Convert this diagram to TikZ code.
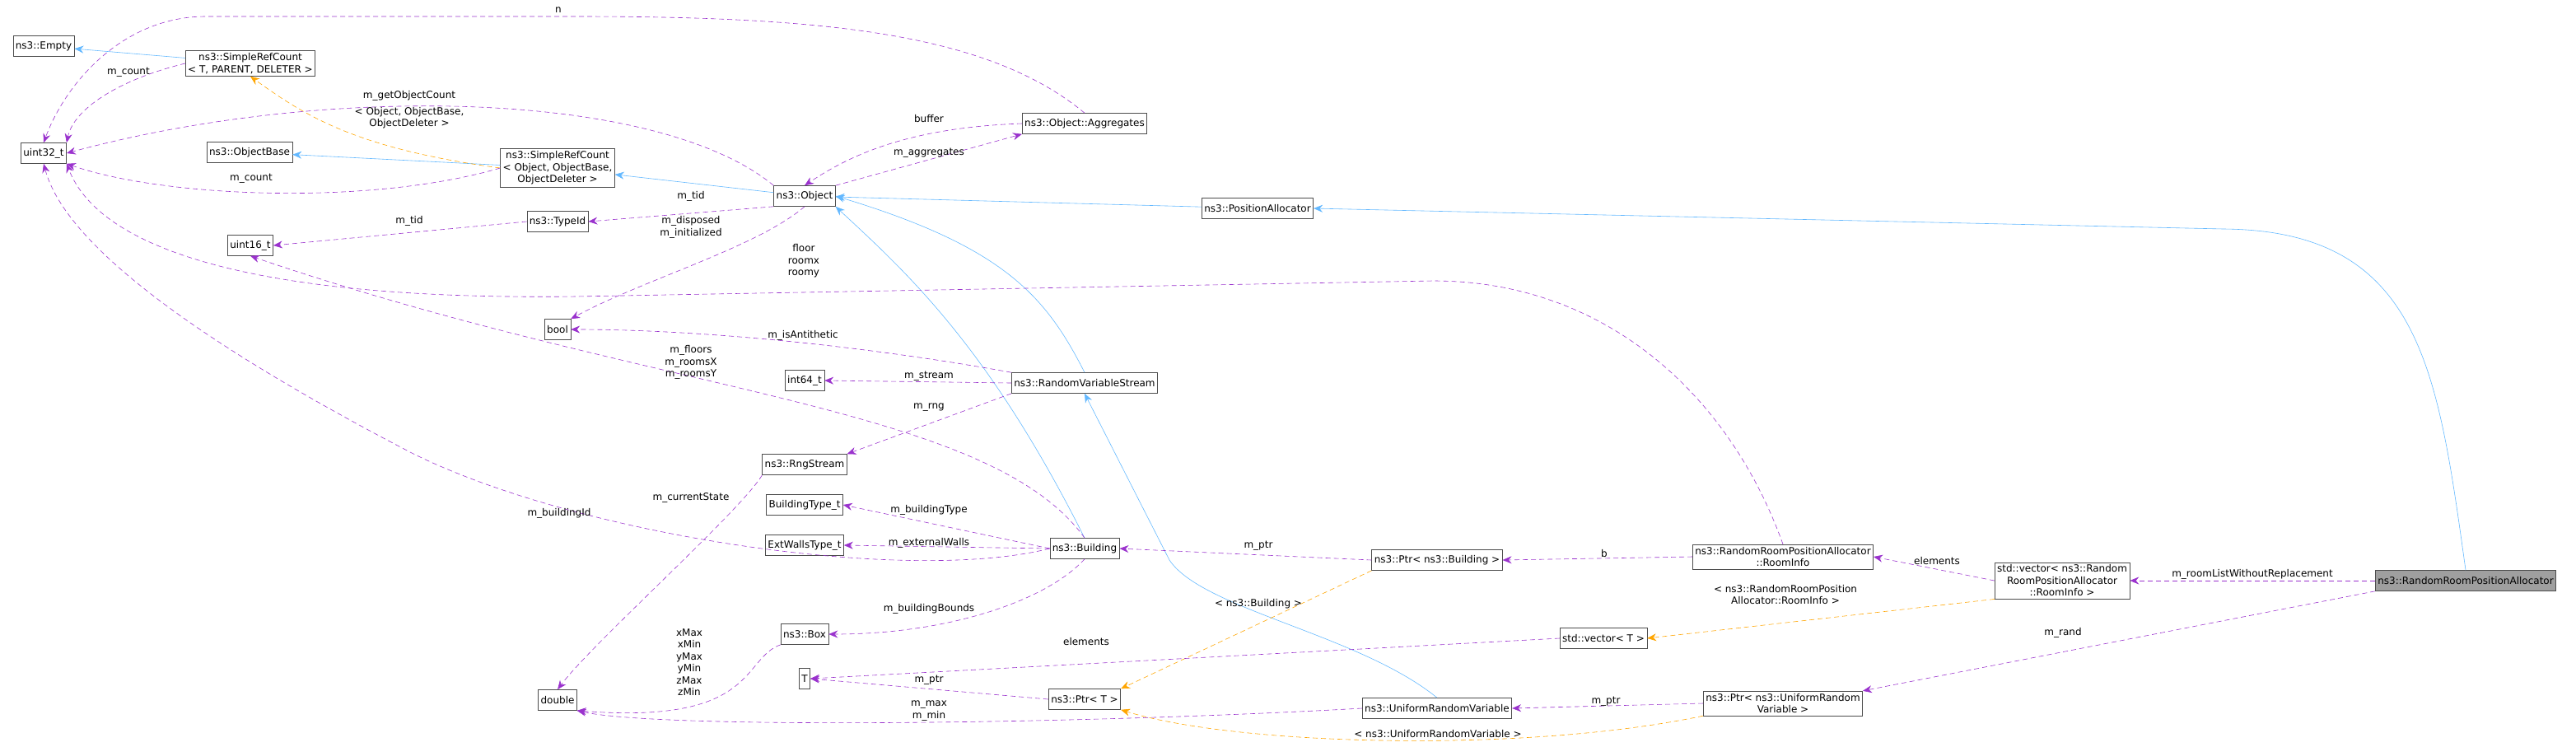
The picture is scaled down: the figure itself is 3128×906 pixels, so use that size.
\documentclass[tikz,border=0pt]{standalone}
\usepackage{fontspec}
\setmainfont{DejaVu Sans}
\usepackage{tikz}
\usetikzlibrary{arrows.meta,positioning,calc}
\definecolor{orchid}{HTML}{9A32CD}
\definecolor{skyb}{HTML}{63B8FF}
\definecolor{orng}{HTML}{FFA500}

\begin{document}
\begin{tikzpicture}[x=1pt, y=-1pt, >={Stealth[length=11pt,width=9pt]}, semithick]
\tikzset{
  box/.style={draw=gray!60!black, fill=white, inner sep=3pt, minimum height=25pt,
    align=center, font=\fontsize{12}{14.5}\selectfont},
  lbl/.style={align=center, font=\fontsize{12}{14.5}\selectfont, inner sep=0pt},
  inherit/.style={->, draw=skyb},
  usage/.style={->, draw=orchid, dashed, dash pattern=on 6pt off 4pt},
  tmpl/.style={->, draw=orng, dashed, dash pattern=on 6pt off 4pt}
}
\useasboundingbox (0,0) rectangle (3128,906);
% classes
\node[box] (empty)   at (53,56)    {ns3::Empty};
\node[box] (srcT)    at (304,77)   {ns3::SimpleRefCount\\< T, PARENT, DELETER >};
\node[box] (uint32)  at (53,186)   {uint32\_t};
\node[box] (objbase) at (303,185)  {ns3::ObjectBase};
\node[box] (srcObj)  at (677,204)  {ns3::SimpleRefCount\\< Object, ObjectBase,\\ObjectDeleter >};
\node[box] (object)  at (977,238)  {ns3::Object};
\node[box] (typeid)  at (677,269)  {ns3::TypeId};
\node[box] (uint16)  at (304,298)  {uint16\_t};
\node[box] (bool)    at (677,400)  {bool};
\node[box] (agg)     at (1317,150) {ns3::Object::Aggregates};
\node[box] (posal)   at (1527,253) {ns3::PositionAllocator};
\node[box] (int64)   at (977,462)  {int64\_t};
\node[box] (rvs)     at (1317,465) {ns3::RandomVariableStream};
\node[box] (rng)     at (977,564)  {ns3::RngStream};
\node[box] (btype)   at (977,613)  {BuildingType\_t};
\node[box] (walls)   at (977,662)  {ExtWallsType\_t};
\node[box] (bldg)    at (1317,666) {ns3::Building};
\node[box] (box)     at (977,770)  {ns3::Box};
\node[box] (T)       at (977,824)  {T};
\node[box] (double)  at (677,850)  {double};
\node[box] (ptrT)    at (1317,849) {ns3::Ptr< T >};
\node[box] (ptrB)    at (1745,680) {ns3::Ptr< ns3::Building >};
\node[box] (urv)     at (1745,860) {ns3::UniformRandomVariable};
\node[box] (vecT)    at (1947,775) {std::vector< T >};
\node[box] (room)    at (2165,676) {ns3::RandomRoomPositionAllocator\\::RoomInfo};
\node[box] (ptrU)    at (2165,854) {ns3::Ptr< ns3::UniformRandom\\Variable >};
\node[box] (vecR)    at (2504,705) {std::vector< ns3::Random\\RoomPositionAllocator\\::RoomInfo >};
\node[box, fill=gray!75] (rr) at (2994,705) {ns3::RandomRoomPositionAllocator};
% inheritance
\draw[inherit] (srcT) -- (empty);
\draw[inherit] (srcObj) -- (objbase);
\draw[inherit] (object) -- (srcObj);
\draw[inherit] (posal) -- (object);
\draw[inherit] (rvs.north) .. controls (1270,360) and (1220,300) .. (object.east);
\draw[inherit] (bldg.north) .. controls (1200,420) and (1100,330) .. (object.south east);
\draw[inherit] (urv.north) .. controls (1650,770) and (1460,740) .. (1420,680) -- (rvs.south);
\draw[inherit] (rr.north) .. controls (2960,450) and (2940,280) .. (2700,278) -- (posal.east);
% templates
\draw[tmpl] (srcObj.west) .. controls (430,180) and (370,140) .. (srcT.south);
\draw[tmpl] (ptrB.south west) -- (ptrT.north east);
\draw[tmpl] (ptrU.south west) .. controls (1850,915) and (1500,905) .. (ptrT.south east);
\draw[tmpl] (vecR.south west) -- (vecT.east);
% members
\draw[usage] (agg.north) .. controls (1200,40) and (1000,20) .. (700,20) -- (250,20) .. controls (150,20) and (80,100) .. (uint32.north);
\draw[usage] (srcT.west) .. controls (150,95) and (90,130) .. (uint32.north east);
\draw[usage] (object.north west) .. controls (800,110) and (400,100) .. (uint32.east);
\draw[usage] (srcObj.west) .. controls (450,250) and (200,240) .. (uint32.south east);
\draw[usage] (agg.west) .. controls (1100,155) and (1030,190) .. (object.north);
\draw[usage] (object.north east) -- (agg.south west);
\draw[usage] (object.south west) -- (typeid.east);
\draw[usage] (typeid.west) -- (uint16.east);
\draw[usage] (object.south) .. controls (920,300) and (780,340) .. (bool.north east);
\draw[usage] (room.north) .. controls (2100,480) and (1950,341) .. (1740,341) -- (700,360) .. controls (300,365) and (120,300) .. (uint32.south east);
\draw[usage] (rvs.north west) .. controls (1050,420) and (850,400) .. (bool.east);
\draw[usage] (bldg.north) .. controls (1200,490) and (800,480) .. (uint16.south);
\draw[usage] (rvs.west) -- (int64.east);
\draw[usage] (rvs.south west) -- (rng.north east);
\draw[usage] (bldg.west) .. controls (1100,710) and (700,650) .. (500,550) .. controls (250,420) and (80,300) .. (uint32.south);
\draw[usage] (rng.south west) .. controls (900,620) and (720,780) .. (double.north);
\draw[usage] (bldg.west) -- (btype.east);
\draw[usage] (bldg.west) -- (walls.east);
\draw[usage] (ptrB.west) -- (bldg.east);
\draw[usage] (room.west) -- (ptrB.east);
\draw[usage] (vecR.west) -- (room.east);
\draw[usage] (rr.west) -- (vecR.east);
\draw[usage] (bldg.south) .. controls (1270,730) and (1150,770) .. (box.east);
\draw[usage] (box.south west) .. controls (900,800) and (920,880) .. (double.south east);
\draw[usage] (vecT.west) -- (T.east);
\draw[usage] (ptrT.west) -- (T.east);
\draw[usage] (urv.west) .. controls (1300,880) and (800,885) .. (double.south east);
\draw[usage] (ptrU.west) -- (urv.east);
\draw[usage] (rr.south west) -- (ptrU.north east);
% labels
\foreach \k/\x/\y/\t in {1/678/12/{n}, 2/156/88/{m\_count}, 3/497/116/{m\_getObjectCount},
  4/497/143/{< Object, ObjectBase,\\ObjectDeleter >}, 5/305/217/{m\_count}, 6/839/238/{m\_tid},
  7/497/268/{m\_tid}, 8/839/276/{m\_disposed\\m\_initialized}, 9/976/317/{floor\\roomx\\roomy},
  10/975/407/{m\_isAntithetic}, 11/839/440/{m\_floors\\m\_roomsX\\m\_roomsY}, 12/1128/457/{m\_stream},
  13/1128/495/{m\_rng}, 14/839/604/{m\_currentState}, 15/679/623/{m\_buildingId},
  16/1128/619/{m\_buildingType}, 17/1128/659/{m\_externalWalls}, 18/1128/739/{m\_buildingBounds},
  19/837/804/{xMax\\xMin\\yMax\\yMin\\zMax\\zMin}, 20/1528/663/{m\_ptr}, 21/1528/733/{< ns3::Building >},
  22/1319/779/{elements}, 23/1128/826/{m\_ptr}, 24/1128/863/{m\_max\\m\_min},
  25/1746/891/{< ns3::UniformRandomVariable >}, 26/1950/852/{m\_ptr}, 27/1948/672/{b},
  28/1128/144/{buffer}, 29/1128/186/{m\_aggregates}, 30/2352/681/{elements},
  31/2168/722/{< ns3::RandomRoomPosition\\Allocator::RoomInfo >}, 32/2735/697/{m\_roomListWithoutReplacement},
  33/2505/768/{m\_rand}}
  \node[lbl] (lab\k) at (\x,\y) {\t};
\end{tikzpicture}
\end{document}
